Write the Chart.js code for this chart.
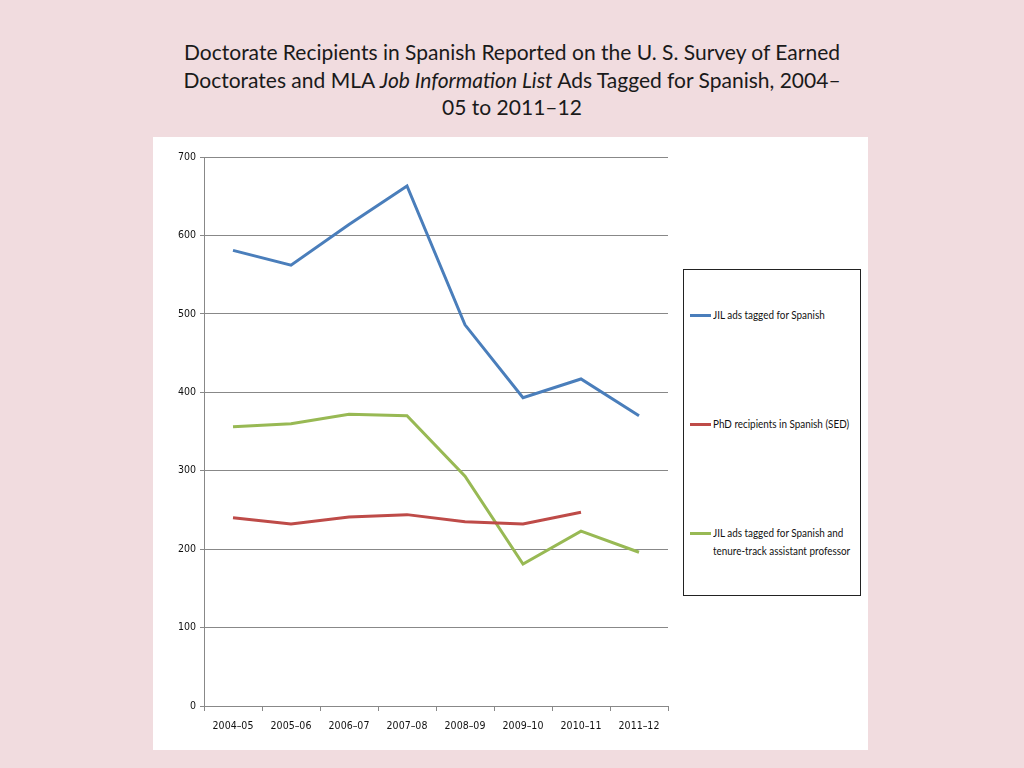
<!DOCTYPE html>
<html>
<head>
<meta charset="utf-8">
<script src="https://cdn.jsdelivr.net/npm/chart.js@4.4.1/dist/chart.umd.min.js"></script>
<style>
  html, body { margin: 0; padding: 0; }
  body { width: 1024px; height: 768px; background: #f1dcdf; position: relative; overflow: hidden; }
  #title {
    position: absolute; left: 0; top: 38px; width: 1024px; text-align: center;
    font-family: Lato, "Open Sans", sans-serif; font-size: 21px; line-height: 27.5px; color: #1a1a1a;
  }
  #panel { position: absolute; left: 153px; top: 137px; width: 715px; height: 613px; background: #fff; }
  #legend {
    position: absolute; left: 683px; top: 269px; width: 176px; height: 325px;
    border: 1px solid #222; background: #fff;
    font-family: Lato, "Open Sans", sans-serif; font-size: 11.5px; color: #111;
  }
  .item { position: absolute; left: 6px; display: flex; align-items: flex-start; line-height: 18px; }
  .swatch { width: 21px; height: 3px; margin-top: 8px; margin-right: 2px; flex: none; }
  .txt { width: 160px; transform: scaleX(0.86); transform-origin: left top; }
</style>
</head>
<body>
<div id="title">Doctorate Recipients in Spanish Reported on the U. S. Survey of Earned<br>Doctorates and MLA <i>Job Information List</i> Ads Tagged for Spanish, 2004–<br>05 to 2011–12</div>
<div id="panel"><canvas id="chart" width="715" height="613"></canvas></div>
<div id="legend"></div>
<script>
// data
const years = ['2004–05', '2005–06', '2006–07', '2007–08', '2008–09', '2009–10', '2010–11', '2011–12'];
const jilAds = [581, 562, 614, 663, 486, 393, 417, 370];
const phdRecipients = [240, 232, 241, 244, 235, 232, 247, null];
const jilTenureTrack = [356, 360, 372, 370, 293, 181, 223, 196];
const yTicks = [0, 100, 200, 300, 400, 500, 600, 700];

const seriesLabels = ['JIL ads tagged for Spanish', 'PhD recipients in Spanish (SED)', 'JIL ads tagged for Spanish and tenure-track assistant professor'];
const seriesColors = ['#4a7ebb', '#be4b48', '#98b954'];
const legendTops = [36, 145, 254];

const tickFont = { family: "'DejaVu Sans Condensed', Arial, sans-serif", size: 10.5 };

function mkSet(label, values, color) {
    return { label: label, data: values, borderColor: color, backgroundColor: color,
             borderWidth: 3, pointRadius: 0, tension: 0, spanGaps: false };
}

new Chart(document.getElementById('chart'), {
    type: 'line',
    data: {
        labels: years,
        datasets: [
            mkSet(seriesLabels[0], jilAds, seriesColors[0]),
            mkSet(seriesLabels[1], phdRecipients, seriesColors[1]),
            mkSet(seriesLabels[2], jilTenureTrack, seriesColors[2])
        ]
    },
    options: {
        responsive: false,
        animation: false,
        layout: { padding: { top: 20, right: 200, bottom: 0, left: 0 } },
        plugins: { legend: { display: false }, tooltip: { enabled: false } },
        scales: {
            x: {
                offset: true,
                grid: { offset: true, drawOnChartArea: false, drawTicks: true, tickLength: 5, color: '#888' },
                border: { color: '#888' },
                ticks: { font: tickFont, color: '#111', padding: 9, maxRotation: 0 },
                afterFit: s => { s.height = 44; }
            },
            y: {
                min: 0, max: 700,
                afterBuildTicks: s => { s.ticks = yTicks.map(v => ({ value: v })); },
                grid: { color: '#888', tickLength: 4 },
                border: { color: '#888' },
                ticks: { font: tickFont, color: '#111', padding: 4 },
                afterFit: s => { s.width = 51; }
            }
        }
    }
});

// legend box
const legendEl = document.getElementById('legend');
seriesLabels.forEach((lab, i) => {
    const it = document.createElement('div');
    it.className = 'item';
    it.style.top = legendTops[i] + 'px';
    const sw = document.createElement('span');
    sw.className = 'swatch';
    sw.style.background = seriesColors[i];
    const tx = document.createElement('span');
    tx.className = 'txt';
    tx.textContent = lab;
    it.appendChild(sw);
    it.appendChild(tx);
    legendEl.appendChild(it);
});
</script>
</body>
</html>
